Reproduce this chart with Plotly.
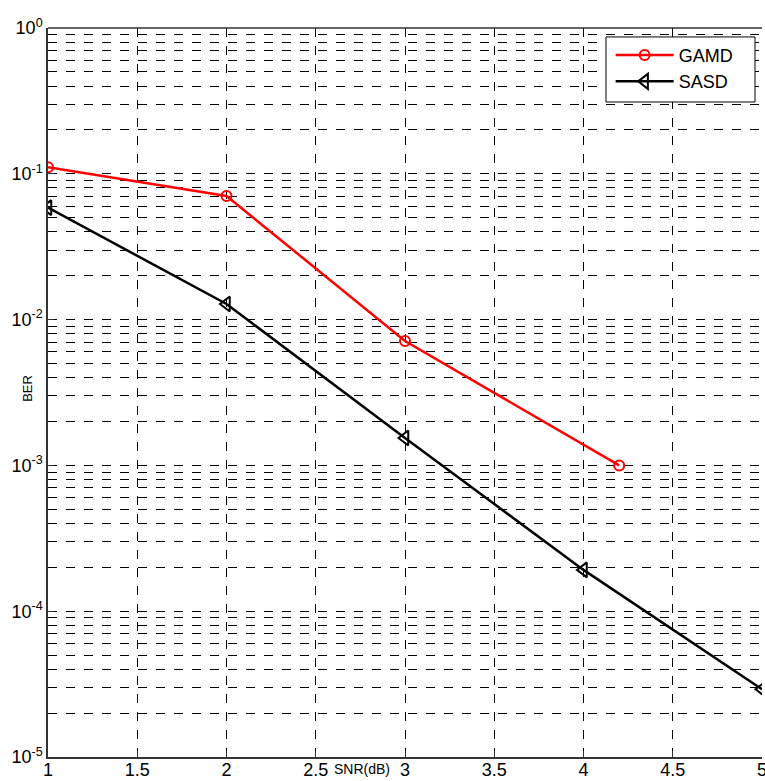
import plotly.graph_objects as go

# BER versus SNR for the two detectors
snr_gamd = [1, 2, 3, 4.2]
ber_gamd = [0.111, 0.0705, 0.00713, 0.001]

snr_sasd = [1, 2, 3, 4, 5]
ber_sasd = [0.0586, 0.0128, 0.00154, 0.000192, 0.0000292]

x_ticks = [1, 1.5, 2, 2.5, 3, 3.5, 4, 4.5, 5]
x_tick_text = ["1", "1.5", "2", "2.5", "3", "3.5", "4", "4.5", "5"]
y_ticks = [1, 0.1, 0.01, 0.001, 0.0001, 0.00001]
y_tick_text = ["10<sup>0</sup>", "10<sup>-1</sup>", "10<sup>-2</sup>",
               "10<sup>-3</sup>", "10<sup>-4</sup>", "10<sup>-5</sup>"]

FONT = "Arial, Liberation Sans"

fig = go.Figure()
fig.add_trace(go.Scatter(
    x=snr_gamd, y=ber_gamd, name="GAMD", mode="lines+markers",
    line=dict(color="#ff0000", width=2.5),
    marker=dict(symbol="circle-open", size=10, color="#ff0000", line=dict(width=2)),
))
fig.add_trace(go.Scatter(
    x=snr_sasd, y=ber_sasd, name="SASD", mode="lines+markers",
    line=dict(color="#000000", width=2.5),
    marker=dict(symbol="triangle-left-open", size=13, color="#000000", line=dict(width=2)),
))

axis_common = dict(
    showline=True, linecolor="#333333", linewidth=1.5, mirror=False,
    ticks="inside", ticklen=6, tickcolor="#333333",
    showgrid=True, gridcolor="#000000", gridwidth=1, griddash="dash",
    zeroline=False, ticklabeloverflow="allow", automargin=False,
    tickfont=dict(family=FONT, size=18, color="#000000"),
)

fig.update_xaxes(
    range=[1, 5], tickvals=x_ticks, ticktext=x_tick_text,
    ticklabelstandoff=-4, **axis_common,
)
fig.update_yaxes(
    type="log", range=[-5, 0], tickvals=y_ticks, ticktext=y_tick_text,
    minor=dict(showgrid=True, gridcolor="#000000", griddash="dash", gridwidth=1,
               dtick="D1", ticks=""),
    **axis_common,
)

# top frame line
fig.add_shape(type="line", xref="paper", yref="paper", x0=0, x1=1, y0=1, y1=1,
              line=dict(color="#333333", width=1.5))

# legend frame, drawn as a box so it can be wider than the entries
fig.add_shape(type="rect", xref="paper", yref="paper",
              x0=0.7815, x1=0.9902, y0=0.8985, y1=0.9877, layer="above",
              fillcolor="#ffffff", line=dict(color="#000000", width=1))

fig.add_annotation(
    text="BER", xref="paper", yref="paper", x=-0.028, y=0.505, textangle=-90,
    showarrow=False, xanchor="center", yanchor="middle",
    font=dict(family=FONT, size=13, color="#000000"),
)
fig.add_annotation(
    text="SNR(dB)", xref="x", yref="paper", x=2.76, y=0, yshift=-12,
    showarrow=False, xanchor="center", yanchor="middle",
    font=dict(family=FONT, size=14, color="#000000"),
)

fig.update_layout(
    width=765, height=781,
    margin=dict(l=48, r=3, t=28, b=24),
    plot_bgcolor="#ffffff", paper_bgcolor="#ffffff",
    legend=dict(
        x=0.788, y=0.988, xanchor="left", yanchor="top",
        bgcolor="rgba(0,0,0,0)", borderwidth=0,
        font=dict(family=FONT, size=18, color="#000000"),
        itemwidth=58, tracegroupgap=0,
    ),
    showlegend=True,
)

fig.write_html("out.html")
